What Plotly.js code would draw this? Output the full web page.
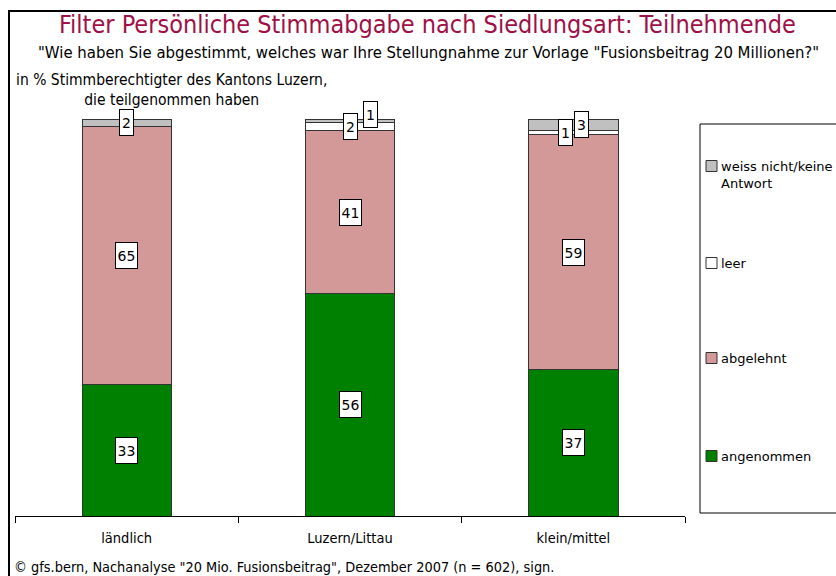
<!DOCTYPE html>
<html>
<head>
<meta charset="utf-8">
<script src="https://cdn.plot.ly/plotly-3.0.1.min.js"></script>
<style>html,body{margin:0;padding:0;background:#fff;}#chart{width:836px;height:576px;}</style>
</head>
<body>
<div id="chart"></div>
<script>
// ---- data ----
const categories = ["ländlich", "Luzern/Littau", "klein/mittel"];
const angenommen = [33, 56, 37];
const abgelehnt = [65, 41, 59];
const leer = [0, 2, 1];
const weissNicht = [2, 1, 3];
const seriesNames = ["angenommen", "abgelehnt", "leer", "weiss nicht/keine<br>Antwort"];
const titleText = "Filter Persönliche Stimmabgabe nach Siedlungsart: Teilnehmende";
const subtitleText = "\"Wie haben Sie abgestimmt, welches war Ihre Stellungnahme zur Vorlage \"Fusionsbeitrag 20 Millionen?\"";
const yLabelText = "in % Stimmberechtigter des Kantons Luzern,<br>die teilgenommen haben";
const footerText = "© gfs.bern, Nachanalyse \"20 Mio. Fusionsbeitrag\", Dezember 2007 (n = 602), sign.";

// ---- style ----
const seriesValues = [angenommen, abgelehnt, leer, weissNicht];
const colors = ["#008000", "#d39999", "#ffffff", "#c0c0c0"];
const narrow = "'Liberation Sans Narrow', 'DejaVu Sans Condensed', 'Liberation Sans', Arial, sans-serif";
const tahoma = "'DejaVu Sans', Verdana, sans-serif";
const W = 836, H = 576, ML = 15, MR = 151, MT = 119, MB = 60;
const PW = W - ML - MR, PH = H - MT - MB;
const px = x => (x - ML) / PW;
const py = y => (H - MB - y) / PH;
// label shifts [series][category] in px for tiny segments
const shifts = {
  "2,1": [0, 0], "3,1": [20, 6],
  "2,2": [-8, 0], "3,2": [8, 0]
};

const traces = seriesValues.map((vals, i) => ({
  type: "bar",
  x: categories,
  y: vals,
  name: seriesNames[i],
  marker: { color: colors[i], line: { color: "#333333", width: 1 } },
  width: 0.4,
  hoverinfo: "none",
  showlegend: false
}));

const annotations = [];
// value labels
categories.forEach((c, j) => {
  let base = 0;
  seriesValues.forEach((vals, i) => {
    const v = vals[j];
    if (v > 0) {
      const s = shifts[i + "," + j] || [0, 0];
      const t = String(v);
      annotations.push({
        x: c, y: base + v / 2, xref: "x", yref: "y",
        text: t, showarrow: false,
        xshift: s[0], yshift: s[1],
        width: t.length > 1 ? 17 : 9, height: 21,
        font: { family: tahoma, size: 14, color: "#000" },
        bgcolor: "#ffffff", bordercolor: "#000000", borderwidth: 1, borderpad: 2
      });
    }
    base += v;
  });
});

// titles
annotations.push({ x: px(427), y: py(24), xref: "paper", yref: "paper", text: titleText, showarrow: false,
  font: { family: narrow, size: 25, color: "#a01048" }, xanchor: "center", yanchor: "middle" });
annotations.push({ x: px(428), y: py(52), xref: "paper", yref: "paper", text: subtitleText, showarrow: false,
  font: { family: narrow, size: 16.6, color: "#000" }, xanchor: "center", yanchor: "middle" });
annotations.push({ x: px(171), y: py(90), xref: "paper", yref: "paper", text: yLabelText, showarrow: false,
  font: { family: narrow, size: 15.5, color: "#000" }, xanchor: "center", yanchor: "middle", align: "center" });
annotations.push({ x: px(12), y: py(567), xref: "paper", yref: "paper", text: footerText, showarrow: false,
  font: { family: narrow, size: 14.4, color: "#000" }, xanchor: "left", yanchor: "middle" });

// manual legend
const legendY = [456, 358, 263, 166];
const shapes = [];
shapes.push({ type: "rect", xref: "paper", yref: "paper", x0: px(700), x1: px(845), y0: py(513), y1: py(124),
  line: { color: "#000", width: 1 }, fillcolor: "rgba(0,0,0,0)" });
shapes.push({ type: "rect", xref: "paper", yref: "paper", x0: px(9), x1: px(850), y0: py(590), y1: py(11),
  line: { color: "#000", width: 2 }, fillcolor: "rgba(0,0,0,0)" });
seriesNames.forEach((n, i) => {
  const yc = legendY[i];
  shapes.push({ type: "rect", xref: "paper", yref: "paper", x0: px(706), x1: px(717), y0: py(yc + 5.5), y1: py(yc - 5.5),
    line: { color: "#333", width: 1 }, fillcolor: colors[i] });
  annotations.push({ x: px(719), y: py(yc - 9), xref: "paper", yref: "paper", text: n, showarrow: false,
    xanchor: "left", yanchor: "top", align: "left",
    font: { family: tahoma, size: 13, color: "#000" } });
});

const layout = {
  width: W, height: H,
  margin: { l: ML, r: MR, t: MT, b: MB, pad: 0 },
  paper_bgcolor: "#ffffff", plot_bgcolor: "#ffffff",
  barmode: "stack",
  showlegend: false,
  xaxis: {
    type: "category", range: [-0.5, 2.5],
    showline: true, linecolor: "#000", linewidth: 1,
    ticks: "outside", tickson: "boundaries", ticklen: 6, tickcolor: "#000",
    ticklabelstandoff: 9,
    tickfont: { family: narrow, size: 14.5, color: "#000" },
    showgrid: false, zeroline: false, fixedrange: true
  },
  yaxis: { range: [0, 100], visible: false, showgrid: false, zeroline: false, fixedrange: true },
  annotations: annotations,
  shapes: shapes
};

Plotly.newPlot("chart", traces, layout, { displayModeBar: false, staticPlot: true });
</script>
</body>
</html>
